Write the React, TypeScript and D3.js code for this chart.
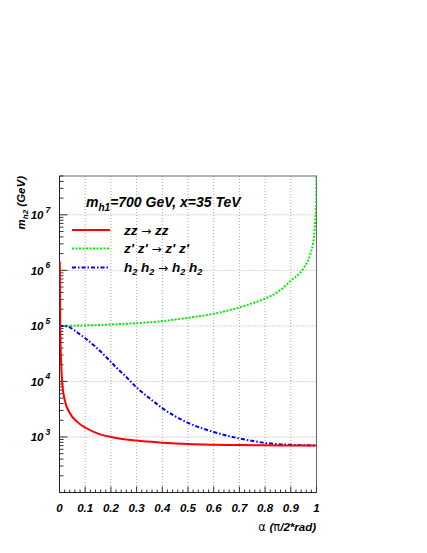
import React from 'react';
import * as d3 from 'd3';

const W = 427;
const H = 553;

// x axis ticks
const xMajor = [0, 0.1, 0.2, 0.3, 0.4, 0.5, 0.6, 0.7, 0.8, 0.9, 1];
const xLabels = ['0', '0.1', '0.2', '0.3', '0.4', '0.5', '0.6', '0.7', '0.8', '0.9', '1'];
const yDecadeExp = [3, 4, 5, 6, 7];

// zz -> zz (red)
const redAlpha = [0.001, 0.002, 0.003, 0.006, 0.011, 0.021, 0.04, 0.07, 0.1, 0.15, 0.2, 0.3, 0.4, 0.5, 0.6, 0.7, 0.8, 0.9, 1.0];
const redVal = [1.45e6, 3e5, 9e4, 2.4e4, 9000, 4500, 2700, 1850, 1480, 1150, 1000, 860, 790, 745, 725, 715, 708, 704, 702];

// z'z' -> z'z' (green)
const greenAlpha = [0, 0.1, 0.2, 0.3, 0.4, 0.5, 0.6, 0.7, 0.75, 0.8, 0.85, 0.9, 0.95, 0.975, 0.99, 0.995, 0.999, 0.9997];
const greenVal = [1.0e5, 1.02e5, 1.06e5, 1.12e5, 1.22e5, 1.4e5, 1.65e5, 2.15e5, 2.55e5, 3.1e5, 4.1e5, 6.5e5, 1.1e6, 1.9e6, 4e6, 7.8e6, 1.6e7, 5e7];

// h2h2 -> h2h2 (blue)
const blueAlpha = [0, 0.02, 0.04, 0.06, 0.08, 0.1, 0.14, 0.18, 0.22, 0.26, 0.3, 0.35, 0.4, 0.5, 0.6, 0.7, 0.8, 0.9, 1.0];
const blueVal = [1.0e5, 9.9e4, 9.4e4, 8.2e4, 7e4, 6.0e4, 4.2e4, 2.8e4, 1.8e4, 1.2e4, 7.8e3, 5e3, 3.3e3, 1.8e3, 1.23e3, 940, 783, 721, 703];

const FONT = "'Liberation Sans', Arial, Helvetica, sans-serif";
const SYM = "'DejaVu Sans', sans-serif";

export default function App() {
  const L = 59.5, R = 316.5, T = 176, B = 492.5;
  const x = d3.scaleLinear().domain([0, 1]).range([L, R]);
  const y = d3.scaleLog().domain([100, 5e7]).range([B, T]);

  const line = d3
    .line<[number, number]>()
    .x((d) => x(d[0]))
    .y((d) => y(d[1]))
    .curve(d3.curveMonotoneX);

  const redPath = line(redAlpha.map((a, i) => [a, redVal[i]]));
  const greenPath = line(greenAlpha.map((a, i) => [a, greenVal[i]]));
  const bluePath = line(blueAlpha.map((a, i) => [a, blueVal[i]]));

  const xMinor = d3.range(0, 51).map((i) => i / 50);
  const yMinor: number[] = [];
  for (let e = 2; e <= 7; e++) {
    for (let k = 1; k <= 9; k++) {
      const v = k * Math.pow(10, e);
      if (v >= 100 && v <= 5e7) yMinor.push(v);
    }
  }

  const gridStyle = { stroke: '#a8a8a8', strokeWidth: 1, strokeDasharray: '1,2' };

  return (
    <div style={{ position: 'absolute', left: 0, top: 0 }}>
      <svg width={W} height={H} xmlns="http://www.w3.org/2000/svg" style={{ display: 'block', background: '#fff' }}>
        <defs>
          <clipPath id="plotclip">
            <rect x={L} y={T} width={R - L} height={B - T} />
          </clipPath>
        </defs>
        {/* grid */}
        {xMajor.slice(1, -1).map((v) => (
          <line key={'gx' + v} x1={x(v)} x2={x(v)} y1={T} y2={B} {...gridStyle} />
        ))}
        {yDecadeExp.map((e) => (
          <line key={'gy' + e} x1={L} x2={R} y1={y(Math.pow(10, e))} y2={y(Math.pow(10, e))} {...gridStyle} />
        ))}
        {/* frame */}
        <rect x={L} y={T} width={R - L} height={B - T} fill="none" stroke="#666" strokeWidth={1} />
        {/* x ticks */}
        {xMinor.map((v, i) => (
          <line key={'xt' + i} x1={x(v)} x2={x(v)} y1={B} y2={B - (i % 5 === 0 ? 6 : 3)} stroke="#333" strokeWidth={1} />
        ))}
        {/* y ticks */}
        {yMinor.map((v, i) => {
          const major = Math.abs(Math.log10(v) - Math.round(Math.log10(v))) < 1e-9;
          return (
            <line key={'yt' + i} x1={L} x2={L + (major ? 8 : 4)} y1={y(v)} y2={y(v)} stroke="#333" strokeWidth={1} />
          );
        })}
        <line x1={L} x2={L} y1={T} y2={B} stroke="#222" strokeWidth={1} />
        <line x1={L} x2={R} y1={B} y2={B} stroke="#222" strokeWidth={1} />

        {/* curves */}
        <g clipPath="url(#plotclip)" fill="none">
          <path d={greenPath || ''} stroke="#00ee00" strokeWidth={2} strokeDasharray="2,1.5" />
          <path d={bluePath || ''} stroke="#0000ff" strokeWidth={2} strokeDasharray="4,2,1.5,2" />
          <path d={redPath || ''} stroke="#ff0000" strokeWidth={2} />
        </g>

        {/* x tick labels */}
        {xMajor.map((v, i) => (
          <text key={'xl' + i} x={x(v)} y={511.5} textAnchor="middle" fontFamily={FONT} fontSize={11.5} fontWeight="bold" fontStyle="italic" fill="#000">
            {xLabels[i]}
          </text>
        ))}
        {/* y tick labels */}
        {yDecadeExp.map((e) => (
          <g key={'yl' + e}>
            <text x={43.5} y={y(Math.pow(10, e)) + 4.5} textAnchor="end" fontFamily={FONT} fontSize={11.5} fontWeight="bold" fontStyle="italic" fill="#000">
              10
            </text>
            <text x={45.5} y={y(Math.pow(10, e)) - 2} fontFamily={FONT} fontSize={8.5} fontWeight="bold" fontStyle="italic" fill="#000">
              {String(e)}
            </text>
          </g>
        ))}

        {/* axis titles */}
        <text x={316} y={531} textAnchor="end" fontFamily={FONT} fontSize={11.5} fill="#000">
          <tspan fontFamily={SYM}>α </tspan>
          <tspan fontWeight="bold" fontStyle="italic">(</tspan>
          <tspan fontFamily={SYM}>π</tspan>
          <tspan fontWeight="bold" fontStyle="italic">/2*rad)</tspan>
        </text>
        <text transform="translate(25,176) rotate(-90)" textAnchor="end" fontFamily={FONT} fontSize={11.5} fontWeight="bold" fontStyle="italic" fill="#000">
          <tspan>m</tspan>
          <tspan fontSize={8} dy={3}>h2</tspan>
          <tspan dy={-3}> (GeV)</tspan>
        </text>

        {/* title */}
        <text x={86} y={207} fontFamily={FONT} fontSize={14} fontWeight="bold" fontStyle="italic" fill="#000">
          <tspan>m</tspan>
          <tspan fontSize={10} dy={4}>h1</tspan>
          <tspan dy={-4}>=700 GeV, x=35 TeV</tspan>
        </text>

        {/* legend */}
        <line x1={72} x2={110} y1={230} y2={230} stroke="#ff0000" strokeWidth={2} />
        <line x1={72} x2={110} y1={248.5} y2={248.5} stroke="#00ee00" strokeWidth={2} strokeDasharray="2,1.5" />
        <line x1={72} x2={110} y1={267.5} y2={267.5} stroke="#0000ff" strokeWidth={2} strokeDasharray="4,2,1.5,2" />
        <text x={124} y={234.5} fontFamily={FONT} fontSize={13.5} fill="#000">
          <tspan fontWeight="bold" fontStyle="italic">zz </tspan>
          <tspan fontFamily={SYM} fontSize={12}>→</tspan>
          <tspan fontWeight="bold" fontStyle="italic"> zz</tspan>
        </text>
        <text x={124} y={253} fontFamily={FONT} fontSize={13.5} fill="#000">
          <tspan fontWeight="bold" fontStyle="italic">z' z' </tspan>
          <tspan fontFamily={SYM} fontSize={12}>→</tspan>
          <tspan fontWeight="bold" fontStyle="italic"> z' z'</tspan>
        </text>
        <text x={124} y={272} fontFamily={FONT} fontSize={13.5} fill="#000" fontWeight="bold" fontStyle="italic">
          <tspan>h</tspan>
          <tspan fontSize={9} dy={3}>2</tspan>
          <tspan dy={-3}> h</tspan>
          <tspan fontSize={9} dy={3}>2</tspan>
          <tspan dy={-3} fontFamily={SYM} fontSize={12} fontWeight="normal" fontStyle="normal"> → </tspan>
          <tspan>h</tspan>
          <tspan fontSize={9} dy={3}>2</tspan>
          <tspan dy={-3}> h</tspan>
          <tspan fontSize={9} dy={3}>2</tspan>
        </text>
      </svg>
    </div>
  );
}
